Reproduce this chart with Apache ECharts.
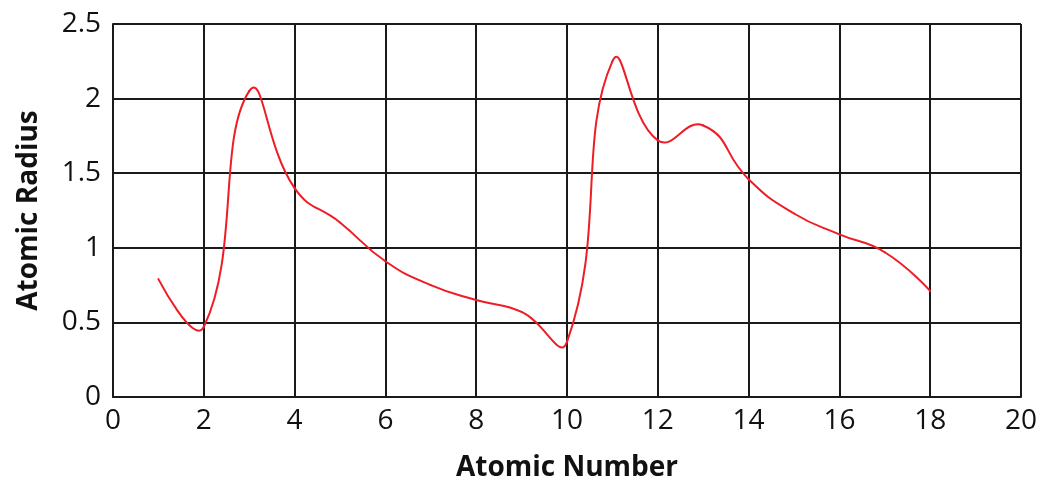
<!DOCTYPE html>
<html>
<head>
<meta charset="utf-8">
<script src="https://cdn.jsdelivr.net/npm/echarts@6/dist/echarts.min.js"></script>
<style>
html,body{margin:0;padding:0;background:#fff;}
#chart{width:1040px;height:484px;}
</style>
</head>
<body>
<div id="chart"></div>
<script>
const atomicNumbers = [1,2,3,4,5,6,7,8,9,10,11,12,13,14,15,16,17,18];
const atomicRadius = [0.79,0.47,2.05,1.40,1.17,0.91,0.75,0.65,0.57,0.37,2.25,1.72,1.82,1.46,1.23,1.09,0.97,0.71];
const xTitle = 'Atomic Number';
const yTitle = 'Atomic Radius';

const seriesData = atomicNumbers.map((n, i) => [n, atomicRadius[i]]);
const gridColor = '#1a1a1a';
const lineColor = '#ee1c25';
const font = '"Open Sans", "Noto Sans", sans-serif';
const SMOOTH = 0.5;

// Length-weighted smooth curve (classic ECharts 4 style), drawn segment by segment
function renderSegment(params, api) {
  const i = params.dataIndex;
  if (i === 0) return null;
  const n = seriesData.length;
  const P = k => api.coord(seriesData[k]);
  const dist = (a, b) => Math.hypot(a[0] - b[0], a[1] - b[1]);
  const a = P(i - 1), b = P(i);
  let cp0;
  if (i - 1 === 0) {
    cp0 = a.slice();
  } else {
    const prev = P(i - 2);
    const lp = dist(a, prev), ln = dist(a, b);
    const r = ln / (lp + ln);
    cp0 = [a[0] + (b[0] - prev[0]) * SMOOTH * r, a[1] + (b[1] - prev[1]) * SMOOTH * r];
  }
  let cp1;
  if (i === n - 1) {
    cp1 = b.slice();
  } else {
    const next = P(i + 1);
    const lp = dist(b, a), ln = dist(b, next);
    const r = ln / (lp + ln);
    cp1 = [b[0] - (next[0] - a[0]) * SMOOTH * (1 - r), b[1] - (next[1] - a[1]) * SMOOTH * (1 - r)];
  }
  return {
    type: 'bezierCurve',
    shape: {x1: a[0], y1: a[1], cpx1: cp0[0], cpy1: cp0[1], cpx2: cp1[0], cpy2: cp1[1], x2: b[0], y2: b[1]},
    style: {stroke: lineColor, lineWidth: 2, fill: null, lineCap: 'round'}
  };
}

const chart = echarts.init(document.getElementById('chart'), null, {renderer: 'canvas'});
chart.setOption({
  animation: false,
  backgroundColor: '#ffffff',
  grid: {left: 113, right: 19, top: 24, bottom: 87, containLabel: false, outerBoundsMode: 'none'},
  xAxis: {
    type: 'value', min: 0, max: 20, interval: 2,
    name: xTitle, nameLocation: 'middle', nameGap: 57,
    nameTextStyle: {fontFamily: font, fontWeight: 'bold', fontSize: 28, lineHeight: 28, color: '#111'},
    axisLine: {show: true, lineStyle: {color: gridColor, width: 2}},
    axisTick: {show: false},
    axisLabel: {fontFamily: font, fontSize: 28, color: '#111', margin: 10},
    splitLine: {show: true, lineStyle: {color: gridColor, width: 2}}
  },
  yAxis: {
    type: 'value', min: 0, max: 2.5, interval: 0.5,
    name: yTitle, nameLocation: 'middle', nameGap: 70,
    nameTextStyle: {fontFamily: font, fontWeight: 'bold', fontSize: 28, color: '#111'},
    axisLine: {show: true, lineStyle: {color: gridColor, width: 2}},
    axisTick: {show: false},
    axisLabel: {fontFamily: font, fontSize: 28, color: '#111', margin: 12},
    splitLine: {show: true, lineStyle: {color: gridColor, width: 2}}
  },
  series: [{
    type: 'custom',
    data: seriesData,
    renderItem: renderSegment,
    encode: {x: 0, y: 1},
    z: 5
  }]
});
</script>
</body>
</html>
